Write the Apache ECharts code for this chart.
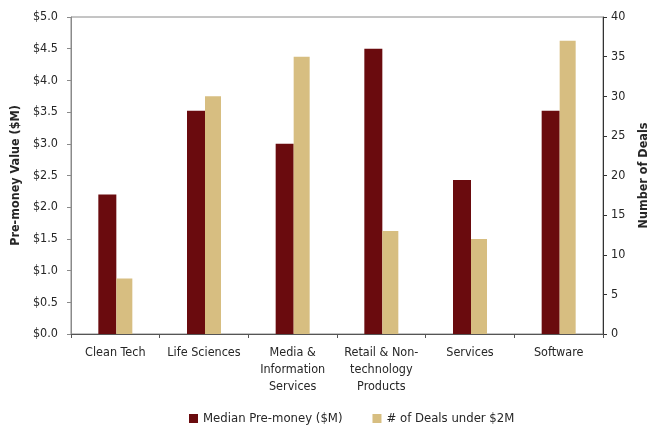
<!DOCTYPE html>
<html>
<head>
<meta charset="utf-8">
<script src="https://cdn.jsdelivr.net/npm/echarts@6/dist/echarts.min.js"></script>
<style>
  html, body { margin: 0; padding: 0; background: #fff; }
  #chart { width: 649px; height: 427px; }
</style>
</head>
<body>
<div id="chart"></div>
<script>
// Sectors and their values
const categories = ['Clean Tech', 'Life Sciences', 'Media &\nInformation\nServices', 'Retail & Non-\ntechnology\nProducts', 'Services', 'Software'];
const medianPreMoney = [2.2, 3.52, 3.0, 4.5, 2.43, 3.52];
const dealsUnder2M = [7, 30, 35, 13, 12, 37];

const FONT = '"Liberation Sans Narrow", "DejaVu Sans Condensed", "Roboto", sans-serif';
const DARK = '#6A0B0E';
const TAN = '#D7BE81';
const TEXT = '#262626';

const chart = echarts.init(document.getElementById('chart'), null, { renderer: 'canvas' });
chart.setOption({
  animation: false,
  textStyle: { fontFamily: FONT },
  grid: {
    left: 71, right: 46, top: 17, bottom: 93,
    outerBoundsMode: 'none', containLabel: false,
    show: true, borderColor: '#8a8a8a', borderWidth: 1
  },
  legend: {
    top: 407, left: 184,
    itemWidth: 9, itemHeight: 9, itemGap: 30,
    icon: 'rect',
    textStyle: { fontFamily: FONT, fontSize: 13, color: TEXT },
    data: ['Median Pre-money ($M)', '# of Deals under $2M']
  },
  xAxis: {
    type: 'category',
    data: categories,
    axisLine: { lineStyle: { color: '#555' } },
    axisTick: { show: true, length: 4, lineStyle: { color: '#555' } },
    axisLabel: { color: TEXT, fontSize: 12.5, lineHeight: 17, margin: 10, interval: 0, fontFamily: FONT }
  },
  yAxis: [
    {
      type: 'value', min: 0, max: 5, interval: 0.5,
      name: 'Pre-money Value ($M)', nameLocation: 'middle', nameGap: 41,
      nameTextStyle: { fontFamily: FONT, fontWeight: 'bold', fontSize: 12.5, color: TEXT },
      axisLine: { show: true, lineStyle: { color: '#8a8a8a' } },
      axisTick: { show: true, length: 4, lineStyle: { color: '#8a8a8a' } },
      splitLine: { show: false },
      axisLabel: { color: TEXT, fontSize: 12.5, margin: 13, fontFamily: FONT,
        formatter: v => '$' + v.toFixed(1) }
    },
    {
      type: 'value', min: 0, max: 40, interval: 5, position: 'right',
      name: 'Number of Deals', nameLocation: 'middle', nameGap: 34, nameRotate: 90,
      nameTextStyle: { fontFamily: FONT, fontWeight: 'bold', fontSize: 12.5, color: TEXT },
      axisLine: { show: true, lineStyle: { color: '#333' } },
      axisTick: { show: true, length: 4, lineStyle: { color: '#333' } },
      splitLine: { show: false },
      axisLabel: { color: TEXT, fontSize: 12.5, margin: 8, fontFamily: FONT }
    }
  ],
  series: [
    {
      name: 'Median Pre-money ($M)', type: 'bar', yAxisIndex: 0,
      data: medianPreMoney, barWidth: 18, barGap: '0%',
      itemStyle: { color: DARK }
    },
    {
      name: '# of Deals under $2M', type: 'bar', yAxisIndex: 1,
      data: dealsUnder2M, barWidth: 16,
      itemStyle: { color: TAN }
    }
  ]
});
</script>
</body>
</html>
